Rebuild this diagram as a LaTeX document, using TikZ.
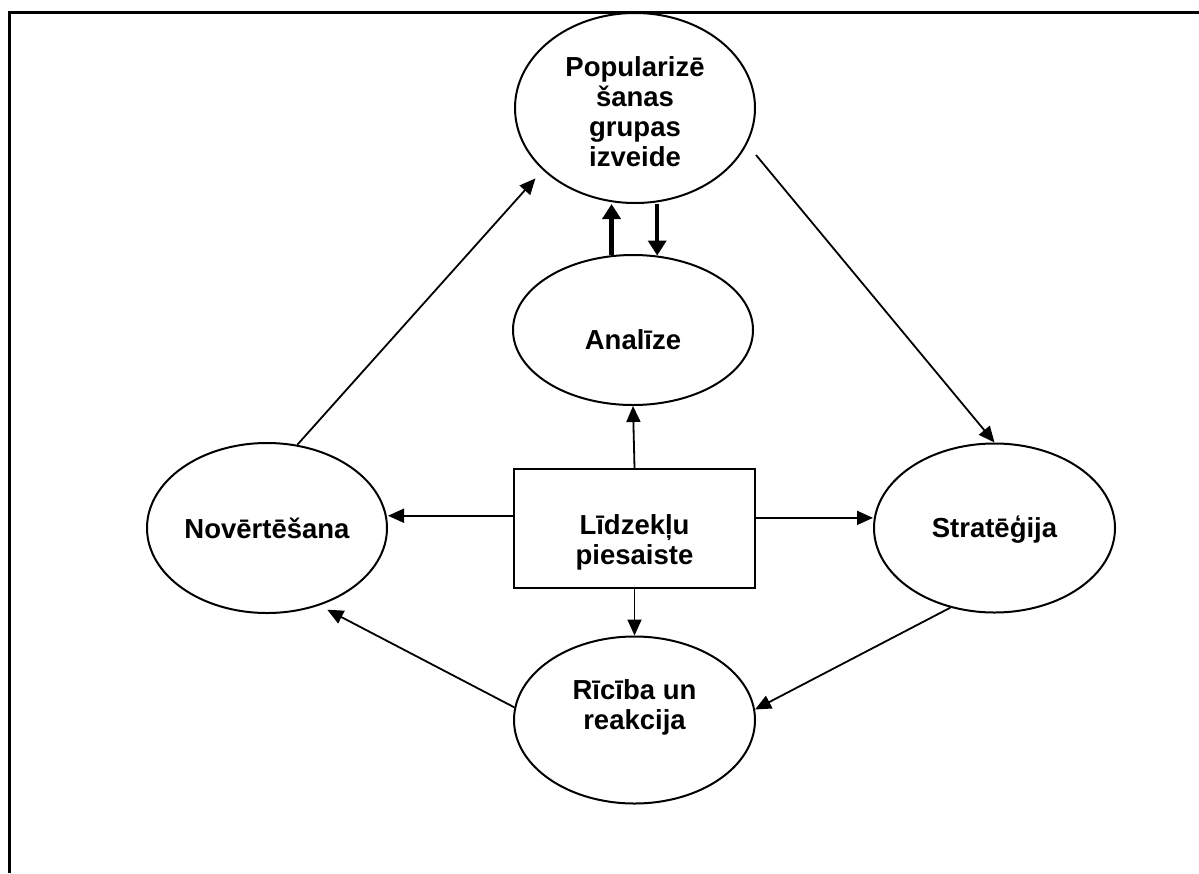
\documentclass[tikz,border=0pt]{standalone}
\usepackage{fontspec}
\setmainfont{Liberation Sans}
\usetikzlibrary{shapes.geometric,arrows.meta,calc}
\begin{document}
\begin{tikzpicture}[x=1pt,y=-1pt,
  ell/.style={draw,ellipse,line width=2pt,inner sep=0pt},
  boxst/.style={draw,rectangle,line width=2pt,inner sep=0pt,minimum width=241pt,minimum height=119pt},
  lbl/.style={font=\fontsize{27.5}{30}\selectfont\bfseries,align=center,inner sep=0pt},
  arr/.style={line width=1.8pt,-{Triangle[length=16pt,width=14pt]}},
  thickarr/.style={line width=4.5pt,-{Triangle[length=15pt,width=18pt]}},
  frame/.style={line width=3pt}]
\useasboundingbox (0,0) rectangle (1199,873);
% frame
\coordinate (fbl) at (9,873);
\coordinate (ftl) at (9,12);
\coordinate (ftr) at (1199,12);
\draw[frame] (fbl) -- (ftl) -- (ftr);
% shapes
\node[ell,minimum width=240pt,minimum height=190pt] (pop) at (635,108) {};
\node[ell,minimum width=240pt,minimum height=150pt] (ana) at (633,330) {};
\node[boxst] (box) at (634.5,528.5) {};
\node[ell,minimum width=240pt,minimum height=170pt] (nov) at (267,528) {};
\node[ell,minimum width=241pt,minimum height=169pt] (strat) at (994.5,528) {};
\node[ell,minimum width=241pt,minimum height=167pt] (ric) at (634.5,720) {};
% texts
\node[lbl] (popt) at (635,112) {Popularizē\\šanas\\grupas\\izveide};
\node[lbl] (anat) at (633,340) {Analīze};
\node[lbl] (boxt) at (634.5,542) {Līdzekļu\\piesaiste};
\node[lbl] (novt) at (267,528) {Novērtēšana};
\node[lbl] (stratt) at (994.5,530) {Stratēģija};
\node[lbl] (rict) at (634.5,707) {Rīcība un\\reakcija};
% connectors
\coordinate (popr) at ($(pop.east)+(0,47)$);
\draw[arr] (popr) -- (strat.north);
\draw[arr,shorten >=11pt] (nov.70) -- (pop.-146.5);
\draw[thickarr] (ana.106) -- (ana.106 |- pop.south);
\draw[thickarr] (ana.72 |- pop.south) -- (ana.72);
\draw[arr] (box.north) -- (ana.south);
\draw[arr] (box.174.5) -- (box.174.5 -| nov.east);
\draw[arr] (box.5.5) -- (box.5.5 -| strat.west);
\draw[arr] (box.south) -- (ric.north);
\draw[arr] (strat.-119.7) -- (ric.5.7);
\draw[arr,shorten >=9pt] (ric.174.3) -- (nov.-56.6);
\end{tikzpicture}
\end{document}
